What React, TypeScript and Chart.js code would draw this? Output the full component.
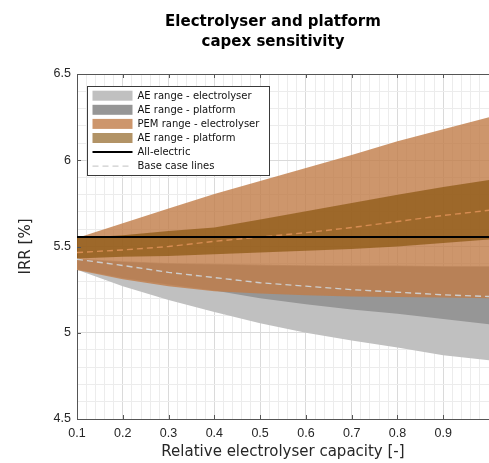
import React, { useEffect, useRef } from 'react';
import { Chart, registerables } from 'chart.js';
Chart.register(...registerables);

// ---------- data ----------
const capacity = [0.1, 0.2, 0.3, 0.4, 0.5, 0.6, 0.7, 0.8, 0.9, 1.0];
const aeElecLow = [5.365, 5.27, 5.19, 5.12, 5.055, 5.0, 4.955, 4.915, 4.87, 4.84];
const aeElecHigh = [5.43, 5.415, 5.405, 5.4, 5.395, 5.39, 5.39, 5.39, 5.385, 5.385];
const aePlatLow = [5.368, 5.318, 5.28, 5.245, 5.2, 5.165, 5.135, 5.11, 5.08, 5.05];
const aePlatHigh = [5.425, 5.41, 5.4, 5.395, 5.39, 5.388, 5.386, 5.385, 5.383, 5.382];
const pemElecLow = [5.364, 5.31, 5.27, 5.24, 5.228, 5.217, 5.21, 5.207, 5.204, 5.2];
const pemElecHigh = [5.55, 5.635, 5.72, 5.805, 5.88, 5.955, 6.03, 6.11, 6.18, 6.25];
const pemPlatLow = [5.43, 5.44, 5.445, 5.455, 5.465, 5.475, 5.485, 5.5, 5.52, 5.54];
const pemPlatHigh = [5.55, 5.565, 5.59, 5.61, 5.657, 5.705, 5.752, 5.8, 5.845, 5.885];
const aeBase = [5.426, 5.39, 5.35, 5.32, 5.29, 5.27, 5.25, 5.235, 5.22, 5.21];
const pemBase = [5.465, 5.48, 5.5, 5.53, 5.555, 5.58, 5.61, 5.645, 5.68, 5.71];
const allElectric = [5.555, 5.555, 5.555, 5.555, 5.555, 5.555, 5.555, 5.555, 5.555, 5.555];

const xTickValues = [0.1, 0.2, 0.3, 0.4, 0.5, 0.6, 0.7, 0.8, 0.9];
const xTickLabels = ['0.1', '0.2', '0.3', '0.4', '0.5', '0.6', '0.7', '0.8', '0.9'];
const yTickValues = [4.5, 5, 5.5, 6, 6.5];
const yTickLabels = ['4.5', '5', '5.5', '6', '6.5'];

const titleLines = ['Electrolyser and platform', 'capex sensitivity'];
const xTitle = 'Relative electrolyser capacity [-]';
const yTitle = 'IRR [%]';
const legendLabels = [
  'AE range - electrolyser',
  'AE range - platform',
  'PEM range - electrolyser',
  'AE range - platform',
  'All-electric',
  'Base case lines',
];

// ---------- styles ----------
const C_AE_ELEC = '#c0c0c0';
const C_AE_PLAT = '#969696';
const C_PEM_ELEC = 'rgba(193,124,71,0.8)';
const C_PEM_PLAT = 'rgba(127,75,0,0.6)';
const C_AE_BASE = '#cdcdcd';
const C_PEM_BASE = 'rgb(214,140,82)';
const AXIS = '#555555';
const TEXT = '#262626';
const GRID_MAJOR = '#dadada';
const GRID_MINOR = '#ececec';

const pts = (ys: number[]) => capacity.map((x, i) => ({ x, y: ys[i] }));
const near = (a: number, b: number) => Math.abs(a - b) < 1e-6;

const band = (low: number[], high: number[], color: string, lowIndex: number, order: number) => [
  { data: pts(low), borderWidth: 0, borderColor: 'transparent', fill: false, pointRadius: 0, order },
  { data: pts(high), borderWidth: 0, borderColor: 'transparent', backgroundColor: color, fill: lowIndex, pointRadius: 0, order },
];

const decorPlugin = {
  id: 'decor',
  afterDraw(chart: any) {
    const { ctx, chartArea: ca } = chart;
    const xs = chart.scales.x;
    const ys = chart.scales.y;
    ctx.save();
    // top border
    ctx.strokeStyle = AXIS;
    ctx.lineWidth = 1;
    ctx.beginPath();
    ctx.moveTo(ca.left, ca.top + 0.5);
    ctx.lineTo(ca.right, ca.top + 0.5);
    ctx.stroke();
    // inward ticks
    ctx.beginPath();
    xTickValues.forEach((v) => {
      const px = Math.round(xs.getPixelForValue(v)) + 0.5;
      ctx.moveTo(px, ca.bottom);
      ctx.lineTo(px, ca.bottom - 4);
      ctx.moveTo(px, ca.top);
      ctx.lineTo(px, ca.top + 4);
    });
    yTickValues.forEach((v) => {
      const py = Math.round(ys.getPixelForValue(v)) + 0.5;
      ctx.moveTo(ca.left, py);
      ctx.lineTo(ca.left + 4, py);
    });
    ctx.stroke();

    // legend
    const bx = 87.5, by = 86.5, bw = 182, bh = 89;
    ctx.fillStyle = '#ffffff';
    ctx.fillRect(bx, by, bw, bh);
    ctx.strokeStyle = '#3a3a3a';
    ctx.lineWidth = 1;
    ctx.strokeRect(bx, by, bw, bh);
    const swatches = [C_AE_ELEC, C_AE_PLAT, C_PEM_ELEC, C_PEM_PLAT];
    const rowY = [95.7, 109.8, 123.9, 138, 152.1, 166.2];
    const sx0 = 92.5, sx1 = 132.5;
    ctx.font = '10px "DejaVu Sans"';
    ctx.textBaseline = 'middle';
    ctx.textAlign = 'left';
    legendLabels.forEach((label, i) => {
      const cy = rowY[i];
      if (i < 4) {
        ctx.fillStyle = swatches[i];
        ctx.fillRect(sx0, cy - 5, sx1 - sx0, 10);
      } else if (i === 4) {
        ctx.strokeStyle = '#000';
        ctx.lineWidth = 2;
        ctx.setLineDash([]);
        ctx.beginPath();
        ctx.moveTo(sx0, cy);
        ctx.lineTo(sx1, cy);
        ctx.stroke();
      } else {
        ctx.strokeStyle = C_AE_BASE;
        ctx.lineWidth = 1.2;
        ctx.setLineDash([6, 4]);
        ctx.beginPath();
        ctx.moveTo(sx0, cy);
        ctx.lineTo(sx1, cy);
        ctx.stroke();
        ctx.setLineDash([]);
      }
      ctx.fillStyle = '#111';
      ctx.fillText(label, 137.5, cy + 0.5);
    });

    // title
    ctx.fillStyle = '#000';
    ctx.font = 'bold 15px "DejaVu Sans"';
    ctx.textAlign = 'center';
    ctx.textBaseline = 'alphabetic';
    ctx.fillText(titleLines[0], 273, 26);
    ctx.fillText(titleLines[1], 273, 46);
    ctx.restore();
  },
};

export default function App() {
  const ref = useRef<HTMLCanvasElement>(null);
  useEffect(() => {
    const datasets: any[] = [
      ...band(aeElecLow, aeElecHigh, C_AE_ELEC, 0, 6),
      ...band(aePlatLow, aePlatHigh, C_AE_PLAT, 2, 5),
      ...band(pemElecLow, pemElecHigh, C_PEM_ELEC, 4, 4),
      ...band(pemPlatLow, pemPlatHigh, C_PEM_PLAT, 6, 3),
      { data: pts(aeBase), borderColor: C_AE_BASE, borderWidth: 1.4, borderDash: [6, 4], fill: false, pointRadius: 0, order: 2 },
      { data: pts(pemBase), borderColor: C_PEM_BASE, borderWidth: 1.4, borderDash: [6, 4], fill: false, pointRadius: 0, order: 1 },
      { data: pts(allElectric), borderColor: '#000', borderWidth: 2, fill: false, pointRadius: 0, order: 0 },
    ];
    const chart = new Chart(ref.current as HTMLCanvasElement, {
      type: 'line',
      data: { datasets },
      options: {
        animation: false,
        responsive: false,
        maintainAspectRatio: false,
        devicePixelRatio: 1,
        layout: { padding: { top: 74, left: 0, right: 0, bottom: 0 } },
        elements: { line: { tension: 0 }, point: { radius: 0 } },
        plugins: { legend: { display: false }, title: { display: false }, tooltip: { enabled: false } },
        scales: {
          x: {
            type: 'linear',
            min: 0.1,
            max: 1.0,
            afterFit: (s: any) => { s.height = 44; s.paddingRight = 0; s.paddingLeft = 0; },
            grid: {
              drawTicks: false,
              color: (c: any) => (c.tick && xTickValues.some((t) => near(t, c.tick.value)) ? GRID_MAJOR : GRID_MINOR),
            },
            border: { display: true, color: AXIS, width: 1 },
            ticks: {
              stepSize: 0.02,
              autoSkip: false,
              maxRotation: 0,
              minRotation: 0,
              padding: 7.5,
              color: TEXT,
              font: { family: '"Liberation Sans", Arial, sans-serif', size: 12.5 },
              callback: (v: any) => {
                const i = xTickValues.findIndex((t) => near(t, Number(v)));
                return i >= 0 ? xTickLabels[i] : '';
              },
            },
            title: {
              display: true,
              text: xTitle,
              color: TEXT,
              font: { family: '"DejaVu Sans"', size: 15 },
              padding: { top: 0, bottom: 1.5 },
            },
          },
          y: {
            type: 'linear',
            min: 4.5,
            max: 6.5,
            afterFit: (s: any) => { s.width = 77; s.paddingTop = 0; s.paddingBottom = 0; },
            grid: {
              drawTicks: false,
              color: (c: any) => (c.tick && yTickValues.some((t) => near(t, c.tick.value)) ? GRID_MAJOR : GRID_MINOR),
            },
            border: { display: true, color: AXIS, width: 1 },
            ticks: {
              stepSize: 0.1,
              autoSkip: false,
              padding: 6,
              color: TEXT,
              font: { family: '"Liberation Sans", Arial, sans-serif', size: 12.5 },
              callback: (v: any) => {
                const i = yTickValues.findIndex((t) => near(t, Number(v)));
                return i >= 0 ? yTickLabels[i] : '';
              },
            },
            title: {
              display: true,
              text: yTitle,
              color: TEXT,
              font: { family: '"DejaVu Sans"', size: 15 },
              padding: { top: 17, bottom: 0 },
            },
          },
        },
      },
      plugins: [decorPlugin],
    } as any);
    return () => chart.destroy();
  }, []);
  return (
    <div style={{ position: 'absolute', left: 0, top: 0, width: 489, height: 463, overflow: 'hidden', background: '#fff' }}>
      <canvas ref={ref} width={489} height={463} style={{ display: 'block', width: 489, height: 463 }} />
    </div>
  );
}
